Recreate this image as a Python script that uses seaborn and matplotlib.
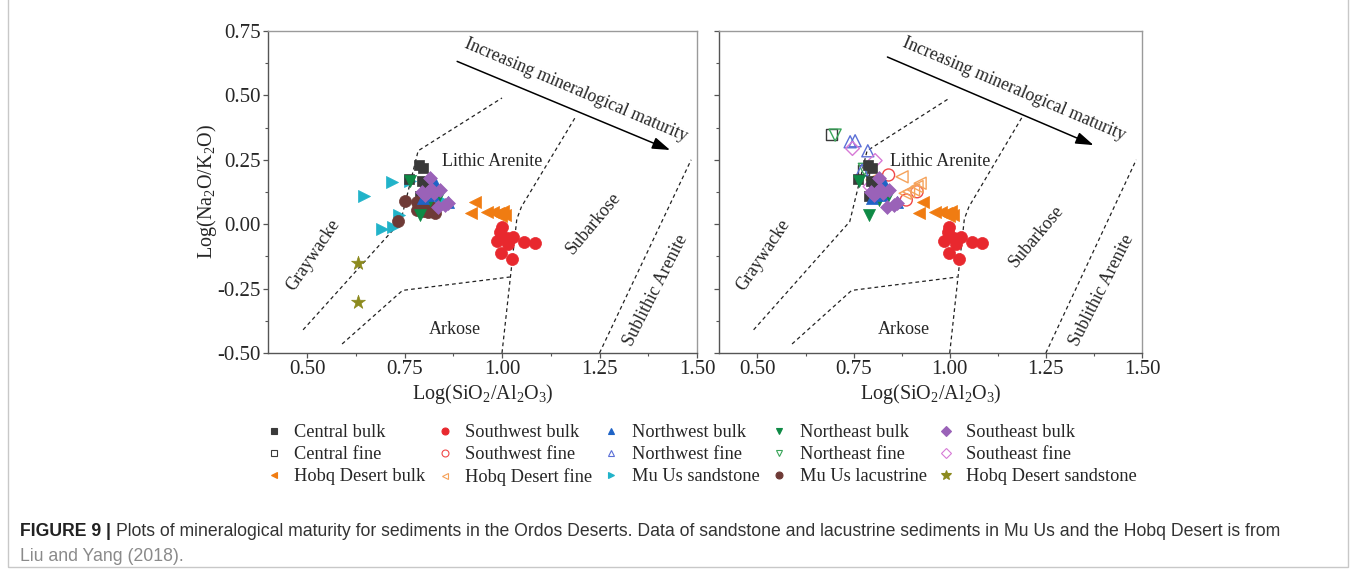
import numpy as np
import pandas as pd
import matplotlib
matplotlib.use("Agg")
import matplotlib.pyplot as plt
import seaborn as sns
from matplotlib.lines import Line2D
from matplotlib.patches import Rectangle

sns.set_theme(style="white")
plt.rcParams['font.family'] = ['Liberation Serif', 'DejaVu Serif']
plt.rcParams['mathtext.default'] = 'regular'

# ---------------- data (log SiO2/Al2O3, log Na2O/K2O) ----------------
central_bulk_x = [0.788, 0.797, 0.794, 0.803, 0.762, 0.789]
central_bulk_y = [0.230, 0.217, 0.169, 0.161, 0.174, 0.109]
central_fine_x = [0.693, 0.776]
central_fine_y = [0.347, 0.210]

southwest_bulk_x = [0.999, 0.995, 0.986, 1.012, 1.029, 1.016, 1.057, 1.085, 0.997, 1.025]
southwest_bulk_y = [-0.012, -0.029, -0.064, -0.055, -0.049, -0.077, -0.068, -0.072, -0.111, -0.135]
southwest_fine_x = [0.841, 0.887, 0.915]
southwest_fine_y = [0.191, 0.094, 0.126]

northwest_bulk_x = [0.828, 0.862, 0.798, 0.824]
northwest_bulk_y = [0.161, 0.087, 0.100, 0.113]
northwest_fine_x = [0.741, 0.754, 0.787, 0.772]
northwest_fine_y = [0.320, 0.324, 0.285, 0.210]

northeast_bulk_x = [0.790, 0.764, 0.837, 0.815]
northeast_bulk_y = [0.036, 0.169, 0.100, 0.094]
northeast_fine_x = [0.702, 0.778]
northeast_fine_y = [0.346, 0.213]

southeast_bulk_x = [0.815, 0.841, 0.794, 0.811, 0.826, 0.854, 0.862, 0.803, 0.837, 0.819]
southeast_bulk_y = [0.178, 0.133, 0.126, 0.126, 0.120, 0.075, 0.081, 0.113, 0.066, 0.135]
southeast_fine_x = [0.747, 0.806, 0.815, 0.793]
southeast_fine_y = [0.294, 0.247, 0.172, 0.146]

hobq_bulk_x = [0.931, 0.920, 0.961, 0.978, 0.991, 1.003, 1.008, 0.997]
hobq_bulk_y = [0.087, 0.042, 0.046, 0.046, 0.042, 0.051, 0.036, 0.032]
hobq_fine_x = [0.876, 0.798, 0.893, 0.906, 0.923, 0.915, 0.884]
hobq_fine_y = [0.184, 0.172, 0.126, 0.133, 0.159, 0.146, 0.120]

muus_sand_x = [0.645, 0.719, 0.764, 0.735, 0.692, 0.721, 0.815, 0.843]
muus_sand_y = [0.109, 0.163, 0.169, 0.036, -0.017, -0.010, 0.083, 0.094]

muus_lac_x = [0.751, 0.734, 0.781, 0.781, 0.797, 0.811, 0.828, 0.803, 0.790, 0.819, 0.807]
muus_lac_y = [0.091, 0.012, 0.087, 0.055, 0.051, 0.049, 0.042, 0.075, 0.066, 0.066, 0.087]

hobq_sand_x = [0.632, 0.632]
hobq_sand_y = [-0.149, -0.301]

# field boundaries
graywacke_bx = [0.49, 0.74, 0.785, 1.0]
graywacke_by = [-0.41, 0.01, 0.285, 0.49]
arkose_bx = [0.59, 0.745, 1.02]
arkose_by = [-0.465, -0.257, -0.205]
subarkose_bx = [1.0, 1.038, 1.05, 1.19]
subarkose_by = [-0.50, 0.02, 0.068, 0.42]
sublith_bx = [1.25, 1.485]
sublith_by = [-0.50, 0.25]

# series: label, x, y, marker, color, filled, panels
series = [
    ("Central bulk", central_bulk_x, central_bulk_y, "s", "#3a3a3a", True, (0, 1)),
    ("Central fine", central_fine_x, central_fine_y, "s", "#3a3a3a", False, (1,)),
    ("Hobq Desert bulk", hobq_bulk_x, hobq_bulk_y, "<", "#f07c12", True, (0, 1)),
    ("Southwest bulk", southwest_bulk_x, southwest_bulk_y, "o", "#e8282e", True, (0, 1)),
    ("Southwest fine", southwest_fine_x, southwest_fine_y, "o", "#f04848", False, (1,)),
    ("Hobq Desert fine", hobq_fine_x, hobq_fine_y, "<", "#f5a25a", False, (1,)),
    ("Northwest bulk", northwest_bulk_x, northwest_bulk_y, "^", "#1f63c6", True, (0, 1)),
    ("Northwest fine", northwest_fine_x, northwest_fine_y, "^", "#5b6fd6", False, (1,)),
    ("Mu Us sandstone", muus_sand_x, muus_sand_y, ">", "#21b3c9", True, (0,)),
    ("Northeast bulk", northeast_bulk_x, northeast_bulk_y, "v", "#0e8a45", True, (0, 1)),
    ("Northeast fine", northeast_fine_x, northeast_fine_y, "v", "#3aa55a", False, (1,)),
    ("Mu Us lacustrine", muus_lac_x, muus_lac_y, "o", "#6e3a36", True, (0,)),
    ("Southeast bulk", southeast_bulk_x, southeast_bulk_y, "D", "#9a62b8", True, (0, 1)),
    ("Southeast fine", southeast_fine_x, southeast_fine_y, "D", "#d77ad6", False, (1,)),
    ("Hobq Desert sandstone", hobq_sand_x, hobq_sand_y, "*", "#8c8a1e", True, (0,)),
]
sizes = {"o": 75, "s": 60, "^": 75, "v": 75, "<": 75, ">": 75, "D": 50, "*": 110}
draw_order = ["Hobq Desert sandstone", "Southwest bulk", "Southwest fine", "Hobq Desert bulk",
              "Hobq Desert fine", "Mu Us sandstone", "Central fine", "Northeast fine",
              "Northwest fine", "Southeast fine", "Central bulk", "Mu Us lacustrine",
              "Northeast bulk", "Northwest bulk", "Southeast bulk"]

# per-panel arrow / caption text placement
arrow_start = [(0.885, 0.632), (0.838, 0.649)]
arrow_end = [(1.431, 0.288), (1.374, 0.307)]
arrow_text_xy = [(1.19, 0.52), (1.166, 0.525)]
subarkose_xy = [(1.235, 0.005), (1.225, -0.045)]

fig = plt.figure(figsize=(13.56, 5.75), dpi=100)
ax1 = fig.add_axes([268 / 1356, 1 - 353 / 575, 429 / 1356, 322 / 575])
ax2 = fig.add_axes([719 / 1356, 1 - 353 / 575, 423 / 1356, 322 / 575])

lookup = {s[0]: s for s in series}
for i, ax in enumerate((ax1, ax2)):
    for lab in draw_order:
        name, xs, ys, mk, col, filled, panels = lookup[lab]
        if i not in panels:
            continue
        df = pd.DataFrame({"x": xs, "y": ys})
        if filled:
            sns.scatterplot(data=df, x="x", y="y", ax=ax, marker=mk, s=sizes[mk],
                            color=col, edgecolor=col, linewidth=0.5, zorder=3, legend=False)
        else:
            sns.scatterplot(data=df, x="x", y="y", ax=ax, marker=mk, s=sizes[mk],
                            color=col, facecolor="none", edgecolor=col, linewidth=1.0,
                            zorder=3, legend=False)

    dash = dict(color="#222222", lw=0.9, ls=(0, (3, 2.5)), zorder=2)
    ax.plot(graywacke_bx, graywacke_by, **dash)
    ax.plot(arkose_bx, arkose_by, **dash)
    ax.plot(subarkose_bx, subarkose_by, **dash)
    ax.plot(sublith_bx, sublith_by, **dash)

    ax.annotate("", xy=arrow_end[i], xytext=arrow_start[i],
                arrowprops=dict(arrowstyle="-|>,head_length=0.9,head_width=0.3",
                                color="black", lw=1.1, shrinkA=0, shrinkB=0))
    ax.text(*arrow_text_xy[i], "Increasing mineralogical maturity", rotation=-23,
            ha="center", va="center", fontsize=12.8, rotation_mode="anchor")
    ax.text(0.975, 0.245, "Lithic Arenite", ha="center", va="center", fontsize=13)
    ax.text(0.515, -0.12, "Graywacke", rotation=56, ha="center", va="center",
            fontsize=13, rotation_mode="anchor")
    ax.text(0.88, -0.41, "Arkose", ha="center", va="center", fontsize=13)
    ax.text(*subarkose_xy[i], "Subarkose", rotation=50, ha="center", va="center",
            fontsize=13, rotation_mode="anchor")
    ax.text(1.395, -0.255, "Sublithic Arenite", rotation=63, ha="center", va="center",
            fontsize=13, rotation_mode="anchor")

    ax.set_xlim(0.4, 1.5)
    ax.set_ylim(-0.5, 0.75)
    ax.set_xticks([0.5, 0.75, 1.0, 1.25, 1.5])
    ax.set_xticklabels(["0.50", "0.75", "1.00", "1.25", "1.50"])
    ax.set_yticks([-0.5, -0.25, 0.0, 0.25, 0.5, 0.75])
    ax.set_xticks([0.625, 0.875, 1.125, 1.375], minor=True)
    ax.set_yticks([-0.375, -0.125, 0.125, 0.375, 0.625], minor=True)
    ax.tick_params(which="major", direction="out", length=3.5, width=0.9, color="#555555",
                   labelsize=15, pad=1.5, bottom=True, left=True)
    ax.tick_params(which="minor", direction="out", length=2.2, width=0.8, color="#555555",
                   bottom=True, left=True)
    for side in ("left", "bottom"):
        ax.spines[side].set_color("#555555")
        ax.spines[side].set_linewidth(1.0)
    for side in ("top", "right"):
        ax.spines[side].set_color("#9a9a9a")
        ax.spines[side].set_linewidth(1.0)
    ax.set_xlabel(r"Log(SiO$_2$/Al$_2$O$_3$)", fontsize=14.5, labelpad=2)
    ax.set_ylabel("")
    ax.grid(False)

ax1.set_yticklabels(["-0.50", "-0.25", "0.00", "0.25", "0.50", "0.75"])
ax1.set_ylabel(r"Log(Na$_2$O/K$_2$O)", fontsize=14.5, labelpad=-1)
ax2.set_yticklabels([])

# legend (column-major order for 5 columns x 3 rows)
handles = []
for name, xs, ys, mk, col, filled, panels in series:
    ms = 7 if mk == "*" else 5
    h = Line2D([], [], ls="none", marker=mk, markersize=ms, color=col,
               markerfacecolor=col if filled else "none", markeredgecolor=col,
               markeredgewidth=0.8, label=name)
    handles.append(h)
fig.legend(handles=handles, ncol=5, loc="upper left", bbox_to_anchor=(257 / 1356, 1 - 417 / 575),
           frameon=False, fontsize=13.2, handlelength=1.0, handletextpad=0.62,
           columnspacing=0.55, labelspacing=0.27, borderaxespad=0)

# caption
cap_size = 12.7
fig.canvas.draw()
renderer = fig.canvas.get_renderer()
t_bold = fig.text(20 / 1356, 1 - 536 / 575, "FIGURE 9 |", fontsize=cap_size, fontweight="bold",
                  family=["Liberation Sans"], color="#222222", va="baseline")
bb = t_bold.get_window_extent(renderer=renderer)
fig.text((bb.x1 + 5) / 1356, 1 - 536 / 575,
         "Plots of mineralogical maturity for sediments in the Ordos Deserts. Data of sandstone and "
         "lacustrine sediments in Mu Us and the Hobq Desert is from",
         fontsize=cap_size, family=["Liberation Sans"], color="#333333", va="baseline")
fig.text(20 / 1356, 1 - 561 / 575, "Liu and Yang (2018).", fontsize=cap_size,
         family=["Liberation Sans"], color="#8a8a8a", va="baseline")

fig.patches.append(Rectangle((8 / 1356, 8 / 575), 1340 / 1356, 600 / 575, transform=fig.transFigure,
                             fill=False, edgecolor="#c8c8c8", lw=1.0))

fig.savefig("out.png", dpi=100)
